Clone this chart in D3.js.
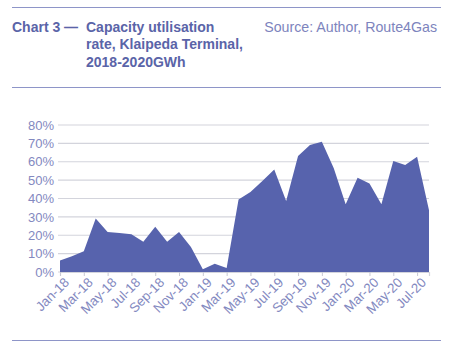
<!DOCTYPE html>
<html lang="en">
  <head>
    <script src="https://d3js.org/d3.v7.min.js"></script>
    <meta charset="utf-8"/>
    <title>Capacity utilisation rate, Klaipeda Terminal</title>
  </head>
  <body style="margin:0;background:#fff;">
    <svg id="chart"></svg>
  </body>

  <script>
    const width = 450;
    const height = 350;

    // monthly values, Jan-18 .. Aug-20
    const months = ["Jan-18","Feb-18","Mar-18","Apr-18","May-18","Jun-18","Jul-18","Aug-18",
      "Sep-18","Oct-18","Nov-18","Dec-18","Jan-19","Feb-19","Mar-19","Apr-19","May-19",
      "Jun-19","Jul-19","Aug-19","Sep-19","Oct-19","Nov-19","Dec-19","Jan-20","Feb-20",
      "Mar-20","Apr-20","May-20","Jun-20","Jul-20","Aug-20"];
    const utilisation = [6.2, 8.6, 11.3, 29.1, 21.8, 21.2, 20.5, 16.5, 24.6, 16.4, 21.8, 13.6,
      1.5, 4.5, 2.2, 39.5, 43.6, 49.5, 55.8, 38.7, 63.1, 69.1, 70.9, 56.4, 36.9, 51.3,
      48.2, 36.9, 60.4, 58.2, 62.7, 33.6];
    const yTicks = [0, 10, 20, 30, 40, 50, 60, 70, 80];
    const xTickLabels = months.filter((d, i) => i % 2 === 0 && i <= 30);

    const titleLines = ["Capacity utilisation", "rate, Klaipeda Terminal,", "2018-2020GWh"];

    const blue = "#5763ad";
    const textCol = "#8389bf";
    const ruleCol = "#8e95c8";

    const margin = {left: 60, right: 21, top: 125, bottom: 78};

    const svg = d3.select("#chart")
      .attr("width", width)
      .attr("height", height)
      .style("font-family", "'Liberation Sans', Arial, sans-serif");

    // header rules
    svg.append("line").attr("x1", 12).attr("x2", 441).attr("y1", 7.5).attr("y2", 7.5)
      .attr("stroke", ruleCol).attr("stroke-width", 1.2);
    svg.append("line").attr("x1", 12).attr("x2", 441).attr("y1", 87.5).attr("y2", 87.5)
      .attr("stroke", ruleCol).attr("stroke-width", 1.2);
    svg.append("line").attr("x1", 12).attr("x2", 441).attr("y1", 340.5).attr("y2", 340.5)
      .attr("stroke", ruleCol).attr("stroke-width", 1.2);

    svg.append("text").attr("x", 12).attr("y", 31.5)
      .attr("fill", "#5a64a8").attr("font-size", 14).attr("font-weight", "bold")
      .text("Chart 3 —");
    svg.append("text").attr("x", 86).attr("fill", "#5a64a8")
      .attr("font-size", 14).attr("font-weight", "bold")
      .selectAll("tspan").data(titleLines).join("tspan")
        .attr("x", 86).attr("y", (d, i) => 31.5 + i * 17.5).text(d => d);
    svg.append("text").attr("x", 437).attr("y", 31.5).attr("text-anchor", "end")
      .attr("fill", "#7d84bd").attr("font-size", 14.2)
      .text("Source: Author, Route4Gas");

    const x = d3.scaleLinear()
      .domain([0, months.length - 1])
      .range([margin.left, width - margin.right]);
    const y = d3.scaleLinear()
      .domain([0, 80])
      .range([height - margin.bottom, margin.top]);

    // gridlines
    svg.append("g")
      .selectAll("line").data(yTicks).join("line")
        .attr("x1", margin.left - 2).attr("x2", width - margin.right)
        .attr("y1", d => y(d)).attr("y2", d => y(d))
        .attr("stroke", "#d3d4dc").attr("stroke-width", 1.2);

    svg.append("g")
      .selectAll("text").data(yTicks).join("text")
        .attr("x", 54).attr("y", d => y(d)).attr("dy", "0.36em")
        .attr("text-anchor", "end").attr("fill", textCol).attr("font-size", 13)
        .text(d => d + "%");

    const area = d3.area()
      .x((d, i) => x(i))
      .y0(y(0))
      .y1(d => y(d));

    svg.append("path").datum(utilisation)
      .attr("d", area)
      .attr("fill", blue);

    // x axis
    const xAxis = svg.append("g")
      .attr("transform", "translate(0," + y(0) + ")")
      .call(d3.axisBottom(x)
        .tickValues(xTickLabels.map(d => months.indexOf(d)))
        .tickFormat(i => months[i])
        .tickSize(4)
        .tickPadding(4));
    xAxis.select(".domain").attr("stroke", "#d3d4dc").attr("stroke-width", 1.2);
    xAxis.selectAll(".tick line").attr("stroke", "#c8c9d4");
    xAxis.selectAll("text")
      .attr("fill", textCol)
      .attr("font-size", 13.3)
      .attr("font-family", "'Liberation Sans', Arial, sans-serif")
      .style("text-anchor", "end")
      .attr("dx", "-0.1em")
      .attr("dy", "0.5em")
      .attr("transform", "rotate(-45)");
  </script>
</html>
